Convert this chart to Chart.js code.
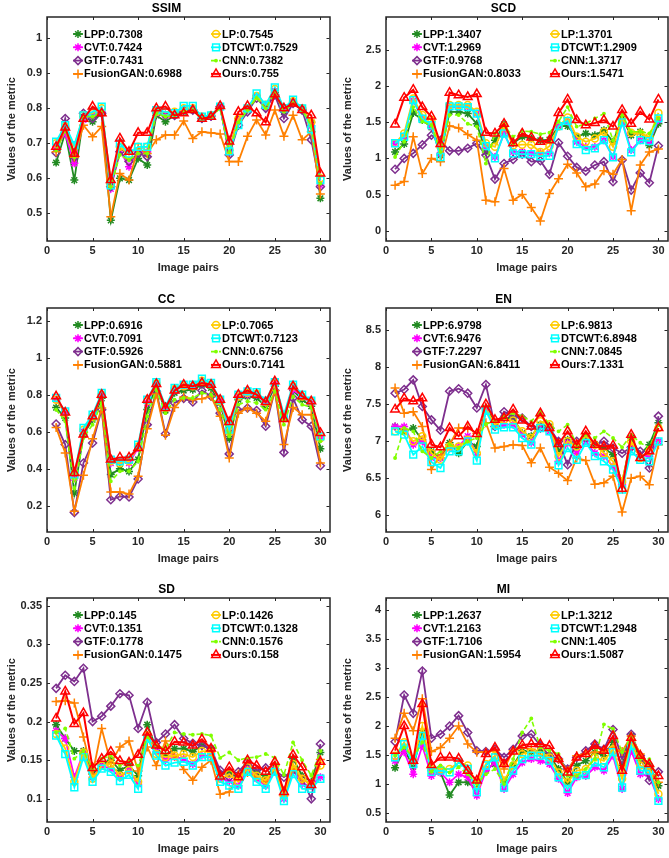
<!DOCTYPE html>
<html>
<head>
<meta charset="utf-8">
<script src="https://cdn.jsdelivr.net/npm/chart.js@4.4.1/dist/chart.umd.min.js"></script>
<style>
  html, body { margin: 0; padding: 0; background: #fff; width: 669px; height: 858px; overflow: hidden; position: relative; }
  canvas { position: absolute; }
</style>
</head>
<body>
<canvas id="c0" width="336" height="277" style="left:0px;top:0px"></canvas>
<canvas id="c1" width="338" height="277" style="left:336px;top:0px"></canvas>
<canvas id="c2" width="336" height="277" style="left:0px;top:291px"></canvas>
<canvas id="c3" width="338" height="277" style="left:336px;top:291px"></canvas>
<canvas id="c4" width="336" height="277" style="left:0px;top:581px"></canvas>
<canvas id="c5" width="338" height="277" style="left:336px;top:581px"></canvas>
<script>
// image pair index 1..30
const pairs = Array.from({ length: 30 }, (_, i) => i + 1);
const methods = ['LPP', 'CVT', 'GTF', 'FusionGAN', 'LP', 'DTCWT', 'CNN', 'Ours'];
const xTicks = [0, 5, 10, 15, 20, 25, 30];

// SSIM
const ssimLPP = [0.645,0.73,0.595,0.776,0.762,0.786,0.48,0.60,0.595,0.657,0.638,0.78,0.762,0.78,0.79,0.795,0.77,0.776,0.805,0.68,0.77,0.797,0.835,0.805,0.845,0.79,0.82,0.80,0.76,0.543];
const ssimCVT = [0.69,0.728,0.643,0.767,0.78,0.79,0.57,0.68,0.633,0.676,0.676,0.786,0.78,0.78,0.795,0.80,0.772,0.776,0.805,0.672,0.765,0.80,0.835,0.805,0.85,0.795,0.82,0.80,0.75,0.58];
const ssimGTF = [0.673,0.771,0.66,0.786,0.771,0.786,0.576,0.676,0.648,0.671,0.662,0.79,0.78,0.78,0.795,0.795,0.771,0.778,0.805,0.667,0.752,0.79,0.829,0.80,0.838,0.771,0.814,0.795,0.71,0.576];
const ssimFusionGAN = [0.676,0.743,0.66,0.752,0.719,0.748,0.49,0.614,0.595,0.686,0.671,0.71,0.724,0.724,0.764,0.714,0.733,0.73,0.727,0.648,0.648,0.72,0.767,0.724,0.795,0.72,0.78,0.71,0.733,0.555];
const ssimLP = [0.70,0.748,0.69,0.78,0.786,0.80,0.585,0.69,0.667,0.69,0.69,0.79,0.79,0.79,0.80,0.80,0.776,0.78,0.805,0.68,0.77,0.80,0.835,0.81,0.855,0.80,0.82,0.80,0.76,0.60];
const ssimDTCWT = [0.705,0.752,0.695,0.78,0.79,0.805,0.58,0.70,0.671,0.69,0.69,0.795,0.79,0.786,0.807,0.807,0.776,0.78,0.805,0.677,0.752,0.80,0.843,0.81,0.86,0.80,0.825,0.80,0.74,0.595];
const ssimCNN = [0.68,0.738,0.66,0.776,0.776,0.79,0.576,0.667,0.652,0.671,0.671,0.786,0.776,0.78,0.79,0.795,0.77,0.776,0.80,0.675,0.76,0.795,0.83,0.80,0.845,0.79,0.815,0.795,0.75,0.585];
const ssimOurs = [0.69,0.745,0.67,0.77,0.805,0.786,0.595,0.714,0.676,0.73,0.73,0.80,0.805,0.78,0.786,0.795,0.77,0.776,0.807,0.705,0.79,0.807,0.786,0.76,0.84,0.80,0.814,0.795,0.78,0.614];
const ssimMeans = [0.7308, 0.7424, 0.7431, 0.6988, 0.7545, 0.7529, 0.7382, 0.755];

// SCD
const scdLPP = [1.09,1.20,1.63,1.53,1.43,1.046,1.645,1.645,1.62,1.48,1.09,1.25,1.47,1.21,1.30,1.276,1.25,1.26,1.447,1.447,1.30,1.345,1.32,1.39,1.23,1.553,1.32,1.37,1.18,1.48];
const scdCVT = [1.21,1.30,1.80,1.55,1.44,1.07,1.71,1.71,1.71,1.62,1.16,1.02,1.345,1.09,1.09,1.07,1.07,1.07,1.46,1.51,1.23,1.16,1.16,1.25,1.02,1.51,1.115,1.25,1.23,1.53];
const scdGTF = [0.85,1.0,1.07,1.19,1.32,1.25,1.105,1.105,1.14,1.21,1.046,0.714,0.93,0.986,1.06,0.955,0.968,0.78,1.217,1.03,0.876,0.825,0.908,0.955,0.677,0.977,0.562,0.80,0.664,1.175];
const scdFusionGAN = [0.63,0.68,1.30,0.79,1.0,0.955,1.45,1.42,1.33,1.25,0.42,0.40,0.86,0.42,0.50,0.32,0.134,0.516,0.72,0.92,0.80,0.61,0.645,0.83,0.78,0.986,0.276,0.91,1.09,1.13];
const scdLP = [1.21,1.345,1.83,1.60,1.53,1.16,1.74,1.74,1.74,1.645,1.21,1.16,1.44,1.18,1.19,1.19,1.09,1.17,1.44,1.567,1.30,1.23,1.276,1.37,1.16,1.56,1.355,1.345,1.30,1.63];
const scdDTCWT = [1.21,1.30,1.806,1.55,1.46,1.02,1.72,1.72,1.71,1.62,1.17,1.0,1.345,1.07,1.06,1.06,1.03,1.037,1.447,1.52,1.198,1.115,1.14,1.253,1.014,1.50,1.083,1.253,1.24,1.553];
const scdCNN = [1.02,1.23,1.71,1.51,1.46,1.09,1.60,1.60,1.48,1.44,0.93,1.345,1.46,1.30,1.38,1.37,1.336,1.355,1.51,1.71,1.44,1.48,1.553,1.62,1.25,1.60,1.37,1.37,1.345,1.553];
const scdOurs = [1.47,1.84,1.95,1.71,1.58,1.20,1.91,1.875,1.85,1.89,1.355,1.345,1.48,1.21,1.345,1.29,1.23,1.25,1.63,1.815,1.53,1.46,1.49,1.53,1.44,1.67,1.48,1.645,1.54,1.815];
const scdMeans = [1.3407, 1.2969, 0.9768, 0.8033, 1.3701, 1.2909, 1.3717, 1.5471];

// CC
const ccLPP = [0.73,0.674,0.268,0.584,0.665,0.78,0.368,0.40,0.385,0.45,0.72,0.845,0.714,0.81,0.822,0.827,0.854,0.836,0.755,0.562,0.773,0.79,0.782,0.737,0.845,0.674,0.822,0.773,0.737,0.508];
const ccCVT = [0.773,0.70,0.35,0.60,0.677,0.80,0.43,0.44,0.43,0.512,0.755,0.854,0.728,0.822,0.845,0.845,0.868,0.854,0.768,0.60,0.79,0.80,0.80,0.755,0.858,0.683,0.827,0.79,0.755,0.566];
const ccGTF = [0.641,0.53,0.164,0.431,0.539,0.719,0.232,0.25,0.247,0.344,0.638,0.818,0.589,0.755,0.78,0.76,0.822,0.791,0.70,0.48,0.714,0.728,0.714,0.629,0.822,0.488,0.782,0.665,0.629,0.416];
const ccFusionGAN = [0.623,0.485,0.17,0.364,0.562,0.728,0.274,0.274,0.263,0.359,0.616,0.804,0.58,0.731,0.787,0.773,0.778,0.791,0.683,0.458,0.70,0.728,0.70,0.656,0.822,0.53,0.731,0.692,0.692,0.431];
const ccLP = [0.772,0.70,0.36,0.61,0.68,0.80,0.44,0.43,0.44,0.52,0.765,0.86,0.728,0.83,0.845,0.845,0.875,0.855,0.765,0.60,0.79,0.81,0.805,0.76,0.86,0.68,0.845,0.79,0.76,0.565];
const ccDTCWT = [0.782,0.71,0.368,0.62,0.692,0.809,0.449,0.44,0.449,0.53,0.773,0.868,0.737,0.836,0.854,0.854,0.887,0.863,0.773,0.611,0.80,0.818,0.814,0.768,0.868,0.692,0.854,0.80,0.768,0.575];
const ccCNN = [0.719,0.656,0.295,0.566,0.638,0.755,0.332,0.386,0.386,0.44,0.683,0.827,0.70,0.773,0.782,0.782,0.809,0.80,0.719,0.575,0.746,0.764,0.755,0.719,0.818,0.638,0.79,0.746,0.732,0.548];
const ccOurs = [0.791,0.703,0.377,0.584,0.683,0.80,0.449,0.461,0.461,0.512,0.773,0.858,0.728,0.822,0.854,0.845,0.863,0.854,0.773,0.652,0.80,0.822,0.80,0.76,0.872,0.668,0.845,0.791,0.764,0.593];
const ccMeans = [0.6916, 0.7091, 0.5926, 0.5881, 0.7065, 0.7123, 0.6756, 0.7141];

// EN
const enLPP = [7.20,7.135,7.18,7.02,6.865,6.775,6.98,6.84,7.0,6.93,7.45,7.25,7.315,7.315,7.11,7.07,7.225,7.20,6.865,7.02,6.93,7.07,6.964,6.91,6.82,6.44,7.045,6.82,6.955,7.25];
const enCVT = [7.20,7.20,6.955,7.0,6.775,6.775,6.91,6.93,7.07,6.82,7.43,7.20,7.225,7.225,7.09,6.98,7.20,7.135,6.73,6.98,6.84,7.0,6.84,6.80,6.66,6.414,6.93,6.82,6.80,7.0];
const enGTF = [7.65,7.70,7.83,7.47,7.29,7.15,7.676,7.71,7.65,7.45,7.766,7.20,7.40,7.34,7.315,7.20,7.18,7.18,7.0,6.685,7.0,7.045,6.955,7.0,6.91,6.84,6.92,6.865,6.64,7.34];
const enFusionGAN = [7.72,7.38,7.40,7.20,6.62,6.82,6.955,7.18,7.18,7.11,7.25,6.91,6.93,6.955,6.945,6.71,6.91,6.65,6.57,6.47,6.775,6.74,6.42,6.44,6.53,6.045,6.50,6.53,6.414,6.955];
const enLP = [7.135,7.135,7.0,7.07,6.84,6.75,6.93,6.93,7.02,6.84,7.43,7.225,7.29,7.28,7.135,7.045,7.27,7.23,6.80,7.0,6.93,7.07,6.955,6.84,6.73,6.46,7.0,6.775,6.865,7.18];
const enDTCWT = [7.135,7.09,6.82,6.93,6.72,6.64,6.865,6.865,7.0,6.74,7.41,7.16,7.19,7.19,7.045,6.955,7.18,7.135,6.676,6.91,6.75,6.98,6.80,6.73,6.62,6.35,6.865,6.75,6.73,7.0];
const enCNN = [6.775,7.18,7.135,6.865,6.775,6.865,6.955,6.91,7.0,7.045,7.23,7.28,7.34,7.38,7.34,7.27,7.40,7.225,7.135,7.225,6.955,7.09,7.045,7.135,7.045,6.92,7.09,6.98,6.91,7.225];
const enOurs = [7.43,7.58,7.54,7.58,6.955,6.92,7.18,7.07,7.20,7.10,7.50,7.29,7.315,7.43,7.28,7.20,7.38,7.18,6.964,7.135,6.955,7.135,6.955,6.93,6.945,6.36,7.09,6.775,6.865,7.18];
const enMeans = [6.9798, 6.9476, 7.2297, 6.8411, 6.9813, 6.8948, 7.0845, 7.1331];

// SD
const sdLPP = [0.196,0.178,0.162,0.162,0.132,0.144,0.15,0.137,0.143,0.13,0.196,0.165,0.156,0.165,0.165,0.161,0.169,0.165,0.132,0.134,0.127,0.144,0.134,0.128,0.143,0.109,0.152,0.13,0.122,0.16];
const sdCVT = [0.188,0.178,0.128,0.16,0.128,0.143,0.139,0.128,0.137,0.119,0.182,0.161,0.15,0.154,0.152,0.145,0.156,0.156,0.126,0.123,0.117,0.139,0.126,0.117,0.139,0.10,0.137,0.119,0.117,0.128];
const sdGTF = [0.243,0.26,0.252,0.269,0.20,0.207,0.22,0.236,0.234,0.191,0.225,0.173,0.184,0.196,0.178,0.172,0.169,0.165,0.137,0.128,0.135,0.148,0.137,0.14,0.137,0.128,0.137,0.126,0.10,0.171];
const sdFusionGAN = [0.226,0.227,0.224,0.18,0.132,0.191,0.146,0.167,0.175,0.136,0.167,0.143,0.175,0.155,0.138,0.124,0.141,0.15,0.106,0.109,0.132,0.134,0.128,0.122,0.139,0.104,0.14,0.125,0.119,0.151];
const sdLP = [0.184,0.165,0.122,0.16,0.126,0.143,0.145,0.13,0.137,0.122,0.182,0.158,0.154,0.156,0.158,0.154,0.162,0.16,0.126,0.132,0.122,0.141,0.13,0.124,0.141,0.104,0.145,0.126,0.119,0.143];
const sdDTCWT = [0.182,0.158,0.115,0.154,0.122,0.139,0.135,0.123,0.131,0.113,0.178,0.156,0.143,0.147,0.148,0.143,0.154,0.154,0.122,0.117,0.113,0.135,0.122,0.113,0.135,0.097,0.132,0.113,0.113,0.126];
const sdCNN = [0.186,0.191,0.152,0.162,0.139,0.152,0.156,0.143,0.15,0.143,0.18,0.169,0.165,0.186,0.184,0.183,0.184,0.182,0.153,0.16,0.15,0.153,0.154,0.158,0.153,0.131,0.173,0.15,0.13,0.162];
const sdOurs = [0.204,0.239,0.197,0.211,0.14,0.152,0.161,0.149,0.147,0.157,0.186,0.169,0.162,0.174,0.173,0.169,0.177,0.165,0.129,0.141,0.128,0.15,0.143,0.135,0.148,0.109,0.157,0.141,0.118,0.148];
const sdMeans = [0.145, 0.1351, 0.1778, 0.1475, 0.1426, 0.1328, 0.1576, 0.158];

// MI
const miLPP = [1.28,1.60,1.30,1.89,1.23,1.20,0.81,1.03,1.03,0.915,1.26,1.345,1.03,1.32,1.575,1.55,1.575,1.49,1.26,1.03,1.32,1.40,1.55,1.49,1.72,1.32,1.83,1.40,1.32,0.97];
const miCVT = [1.40,1.55,1.17,1.66,1.14,1.20,1.03,1.17,1.115,0.80,1.23,1.37,0.915,1.17,1.37,1.43,1.40,1.345,1.09,0.845,1.115,1.14,1.29,1.23,1.49,0.915,1.575,1.17,1.14,0.74];
const miGTF = [1.73,2.535,2.22,2.95,1.79,1.86,2.0,2.18,1.89,1.575,1.56,1.60,1.46,1.60,1.83,1.86,1.66,1.49,1.43,1.26,1.46,1.575,1.69,1.60,1.94,1.43,1.86,1.49,1.06,1.21];
const miFusionGAN = [1.79,2.22,1.92,2.47,1.56,1.63,1.79,2.0,1.69,1.55,1.55,1.575,1.26,1.575,1.63,1.60,1.49,1.43,1.43,1.23,1.49,1.52,1.55,1.56,1.63,1.56,1.83,1.52,1.26,1.03];
const miLP = [1.49,1.72,1.40,2.0,1.26,1.26,1.26,1.37,1.32,1.0,1.345,1.49,1.06,1.32,1.52,1.55,1.56,1.46,1.20,1.03,1.23,1.26,1.46,1.40,1.60,1.09,1.745,1.32,1.26,0.83];
const miDTCWT = [1.46,1.69,1.345,1.83,1.21,1.23,1.20,1.37,1.26,0.86,1.32,1.46,0.94,1.23,1.43,1.49,1.49,1.40,1.115,0.915,1.14,1.155,1.37,1.29,1.55,0.94,1.66,1.23,1.23,0.71];
const miCNN = [1.49,1.63,1.46,1.72,1.21,1.32,1.20,1.29,1.17,1.0,1.17,1.26,1.0,1.43,1.89,2.13,1.63,1.575,1.52,1.14,1.14,1.26,1.43,2.03,1.95,1.55,1.80,1.43,1.43,1.03];
const miOurs = [1.575,2.0,1.40,2.38,1.33,1.46,1.46,1.44,1.23,1.06,1.52,1.63,1.345,1.56,1.67,1.69,1.69,1.66,1.43,1.20,1.46,1.52,1.66,1.575,1.83,1.23,1.80,1.49,1.345,1.14];
const miMeans = [1.2637, 1.2163, 1.7106, 1.5954, 1.3212, 1.2948, 1.405, 1.5087];

// line / marker look per method (same order as methods)
const looks = [
  { color: '#228B22', style: 'star',      r: 4,   width: 1.8, dash: [] },
  { color: '#FF00FF', style: 'star',      r: 4,   width: 1.8, dash: [] },
  { color: '#7E2F8E', style: 'rectRot',   r: 4,   width: 1.8, dash: [] },
  { color: '#FF8000', style: 'cross',     r: 4.5, width: 1.8, dash: [] },
  { color: '#FFCC00', style: 'circle',    r: 3.5, width: 1.8, dash: [] },
  { color: '#00FFFF', style: 'rect',      r: 4.8, width: 1.8, dash: [] },
  { color: '#80FF00', style: 'circle',    r: 1.2, width: 1.6, dash: [5, 3] },
  { color: '#FF0000', style: 'triangle',  r: 5,   width: 2,   dash: [] }
];

Chart.defaults.font.family = '"Liberation Sans", Arial, Helvetica, sans-serif';
Chart.defaults.font.size = 11;
Chart.defaults.font.weight = 'bold';
Chart.defaults.color = '#262626';

// axes box with inward MATLAB-style ticks
const boxTicks = {
  id: 'boxTicks',
  afterDraw(chart) {
    const { ctx, chartArea: a, scales: { x, y } } = chart;
    ctx.save();
    ctx.strokeStyle = '#262626';
    ctx.lineWidth = 1.5;
    ctx.strokeRect(Math.round(a.left), Math.round(a.top), Math.round(a.width), Math.round(a.height));
    ctx.lineWidth = 1;
    ctx.beginPath();
    x.ticks.forEach(t => {
      const px = Math.round(x.getPixelForValue(t.value)) + 0.5;
      ctx.moveTo(px, a.bottom); ctx.lineTo(px, a.bottom - 3);
      ctx.moveTo(px, a.top); ctx.lineTo(px, a.top + 3);
    });
    y.ticks.forEach(t => {
      const py = Math.round(y.getPixelForValue(t.value)) + 0.5;
      ctx.moveTo(a.left, py); ctx.lineTo(a.left + 3, py);
      ctx.moveTo(a.right, py); ctx.lineTo(a.right - 3, py);
    });
    ctx.stroke();
    ctx.restore();
  }
};

// two-column legend inside the axes
const legendInside = {
  id: 'legendInside',
  afterDatasetsDraw(chart) {
    const { ctx, chartArea: a } = chart;
    chart.data.datasets.forEach((ds, i) => {
      const col = Math.floor(i / 4), row = i % 4;
      const x = a.left + (col ? 169 : 31);
      const y = a.top + 17 + row * 13.3;
      ctx.save();
      ctx.strokeStyle = ds.borderColor;
      ctx.lineWidth = ds.borderWidth;
      ctx.setLineDash(ds.borderDash);
      ctx.beginPath();
      ctx.moveTo(x - 5, y); ctx.lineTo(x + 5, y);
      ctx.stroke();
      ctx.setLineDash([]);
      ctx.fillStyle = ds.pointBackgroundColor;
      ctx.lineWidth = ds.pointBorderWidth;
      Chart.helpers.drawPoint(ctx, { pointStyle: ds.pointStyle, radius: ds.pointRadius, rotation: 0, borderWidth: ds.pointBorderWidth }, x, y);
      ctx.fillStyle = '#000';
      ctx.font = 'bold 11px "Liberation Sans", Arial, sans-serif';
      ctx.textBaseline = 'middle';
      ctx.fillText(ds.label, x + 6, y + 0.5);
      ctx.restore();
    });
  }
};

function makeChart(id, title, series, means, yMin, yMax, yStep, yWidth) {
  const datasets = methods.map((m, i) => {
    const lk = looks[i];
    return {
      label: m + ':' + means[i],
      data: series[i].map((v, j) => ({ x: pairs[j], y: v })),
      borderColor: lk.color,
      backgroundColor: lk.color,
      borderWidth: lk.width,
      borderDash: lk.dash,
      pointStyle: lk.style,
      pointRadius: lk.r,
      pointBorderWidth: 1.5,
      pointBorderColor: lk.color,
      pointBackgroundColor: m === 'CNN' ? lk.color : 'rgba(0,0,0,0)',
      tension: 0,
      order: 7 - i
    };
  });

  new Chart(document.getElementById(id), {
    type: 'line',
    data: { datasets },
    plugins: [legendInside, boxTicks],
    options: {
      responsive: false,
      animation: false,
      devicePixelRatio: 1,
      layout: { padding: { left: 0, right: 3, top: 0, bottom: 0 } },
      plugins: {
        legend: { display: false },
        tooltip: { enabled: false },
        title: {
          display: true, text: title, color: '#000',
          font: { size: 12, weight: 'bold', lineHeight: 1 },
          padding: { top: 3, bottom: 2 }
        }
      },
      scales: {
        x: {
          type: 'linear', min: 0, max: 31,
          afterFit: s => { s.height = 36; },
          afterBuildTicks: s => { s.ticks = xTicks.map(v => ({ value: v })); },
          grid: { display: false, drawTicks: false },
          border: { display: false },
          ticks: { padding: 3, autoSkip: false, maxRotation: 0 },
          title: { display: true, text: 'Image pairs', padding: { top: 0, bottom: 2 }, font: { size: 11, weight: 'bold' } }
        },
        y: {
          min: yMin, max: yMax,
          afterFit: s => { s.width = yWidth; },
          grid: { display: false, drawTicks: false },
          border: { display: false },
          ticks: { stepSize: yStep, includeBounds: false, padding: 5, autoSkip: false, callback: v => String(+v.toFixed(3)) },
          title: { display: true, text: 'Values of the metric', padding: { top: 5, bottom: 0 }, font: { size: 11, weight: 'bold' } }
        }
      }
    }
  });
}

makeChart('c0', 'SSIM', [ssimLPP, ssimCVT, ssimGTF, ssimFusionGAN, ssimLP, ssimDTCWT, ssimCNN, ssimOurs], ssimMeans, 0.421, 1.061, 0.1, 47);
makeChart('c1', 'SCD', [scdLPP, scdCVT, scdGTF, scdFusionGAN, scdLP, scdDTCWT, scdCNN, scdOurs], scdMeans, -0.142, 2.956, 0.5, 50);
makeChart('c2', 'CC', [ccLPP, ccCVT, ccGTF, ccFusionGAN, ccLP, ccDTCWT, ccCNN, ccOurs], ccMeans, 0.058, 1.268, 0.2, 47);
makeChart('c3', 'EN', [enLPP, enCVT, enGTF, enFusionGAN, enLP, enDTCWT, enCNN, enOurs], enMeans, 5.776, 8.80, 0.5, 50);
makeChart('c4', 'SD', [sdLPP, sdCVT, sdGTF, sdFusionGAN, sdLP, sdDTCWT, sdCNN, sdOurs], sdMeans, 0.07, 0.36, 0.05, 47);
makeChart('c5', 'MI', [miLPP, miCVT, miGTF, miFusionGAN, miLP, miDTCWT, miCNN, miOurs], miMeans, 0.345, 4.21, 0.5, 50);
</script>
</body>
</html>
